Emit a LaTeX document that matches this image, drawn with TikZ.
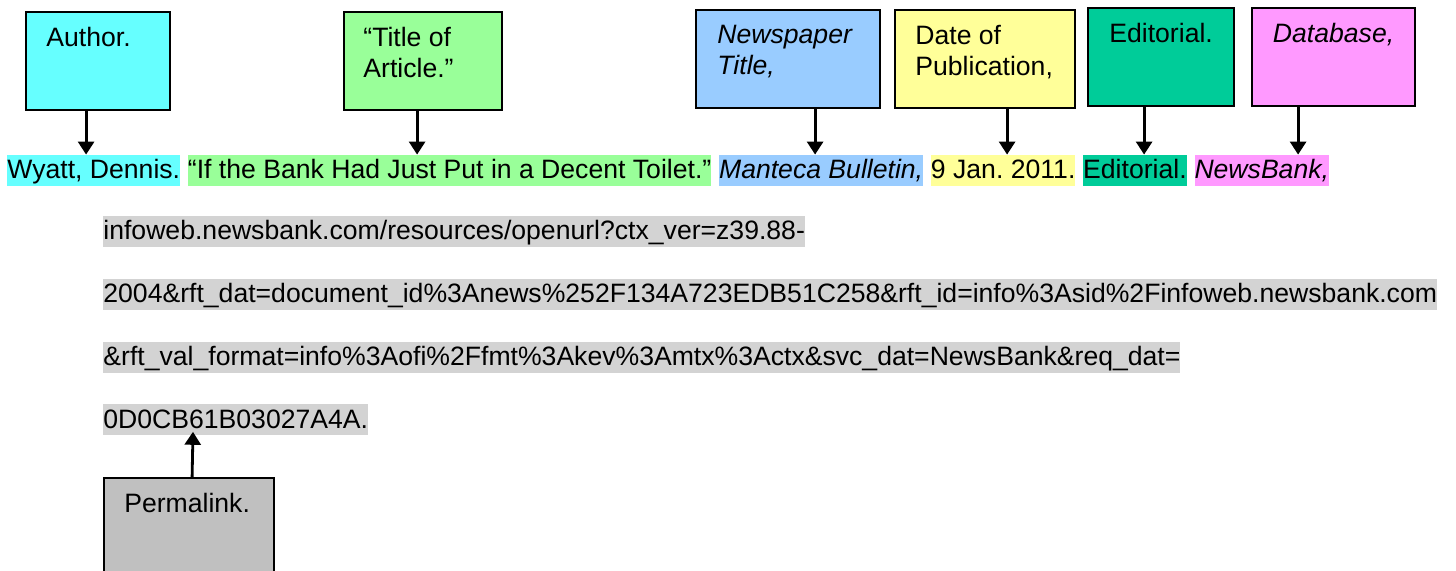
\documentclass[tikz,border=0pt]{standalone}
\usepackage{fontspec}
\setmainfont{Liberation Sans}
\usetikzlibrary{positioning,arrows.meta}
\frenchspacing

\definecolor{authorcol}{HTML}{66FFFF}
\definecolor{titlecol}{HTML}{99FF99}
\definecolor{papercol}{HTML}{99CCFF}
\definecolor{datecol}{HTML}{FFFF99}
\definecolor{editcol}{HTML}{00CC99}
\definecolor{basecol}{HTML}{FF99FF}
\definecolor{urlcol}{HTML}{D3D3D3}
\definecolor{permacol}{HTML}{C0C0C0}

\newcommand{\citefont}{\fontsize{13.3}{15.5}\selectfont}

\tikzset{
  box/.style={draw=black,line width=1.1pt,anchor=north west,inner sep=0pt,minimum height=49pt},
  lbl/.style={inner sep=0pt,align=left,font=\citefont},
  hl/.style={inner sep=0pt,text height=12pt,text depth=3.5pt,font=\citefont},
  arr/.style={-{Triangle[width=8pt,length=6.5pt]},line width=1.4pt},
}

\begin{document}
\begin{tikzpicture}[x=0.5pt,y=-0.5pt]
    \path[fill=white,use as bounding box](0,0)rectangle(1456,571);
    \clip(0,0)rectangle(1456,571);

    % the citation, piece by piece
    \node[hl,fill=authorcol,anchor=base west](wyatt)at(7,179){Wyatt, Dennis.};
    \node[hl,fill=titlecol,right=3.5pt of wyatt](toilet){“If the Bank Had Just Put in a Decent Toilet.”};
    \node[hl,fill=papercol,right=3.5pt of toilet](manteca){\textit{Manteca Bulletin,}};
    \node[hl,fill=datecol,right=3.5pt of manteca](jan){9 Jan. 2011.};
    \node[hl,fill=editcol,right=3.5pt of jan](editorial){Editorial.};
    \node[hl,fill=basecol,right=3.5pt of editorial](newsbank){\textit{NewsBank,}};

    \node[hl,fill=urlcol,anchor=base west](url1)at(103,240){infoweb.newsbank.com/resources/openurl?ctx\_ver=z39.88-};
    \node[hl,fill=urlcol,below right=15.5pt and 0pt of url1.south west](url2){2004\&rft\_dat=document\_id\%3Anews\%252F134A723EDB51C258\&rft\_id=info\%3Asid\%2Finfoweb.newsbank.com};
    \node[hl,fill=urlcol,below right=15.5pt and 0pt of url2.south west](url3){\&rft\_val\_format=info\%3Aofi\%2Ffmt\%3Akev\%3Amtx\%3Actx\&svc\_dat=NewsBank\&req\_dat=};
    \node[hl,fill=urlcol,below right=15.5pt and 0pt of url3.south west](url4){0D0CB61B03027A4A.};

    % the boxes
    \node[box,fill=authorcol,minimum width=72pt](author)at(25,11){};
    \node[box,fill=titlecol,minimum width=79pt](title)at(343,11){};
    \node[box,fill=papercol,minimum width=92pt](paper)at(695,9){};
    \node[box,fill=datecol,minimum width=90pt](date)at(894,9){};
    \node[box,fill=editcol,minimum width=73pt](edit)at(1087,7){};
    \node[box,fill=basecol,minimum width=81.5pt](base)at(1251,7){};
    \node[box,fill=permacol,minimum width=85pt,minimum height=60pt](perma)at(103,477){};

    \node[lbl,anchor=north west](authorlbl)at([shift={(21,16)}]author.north west){Author.};
    \node[lbl,anchor=north west](titlelbl)at([shift={(20,16)}]title.north west){“Title of\\Article.”};
    \node[lbl,anchor=north west](paperlbl)at([shift={(22,16)}]paper.north west){\textit{Newspaper}\\\textit{Title,}};
    \node[lbl,anchor=north west](datelbl)at([shift={(21,16)}]date.north west){Date of\\Publication,};
    \node[lbl,anchor=north](editlbl)at([shift={(0,16)}]edit.north){Editorial.};
    \node[lbl,anchor=north](baselbl)at([shift={(0,16)}]base.north){\textit{Database,}};
    \node[lbl,anchor=north](permalbl)at([shift={(-2,16)}]perma.north){Permalink.};

    % arrows down to the citation
    \coordinate(a1)at([xshift=-6pt]author.south);
    \coordinate(a2)at([xshift=-3pt]title.south);
    \coordinate(a3)at([xshift=13.5pt]paper.south);
    \coordinate(a4)at([xshift=11pt]date.south);
    \coordinate(a5)at([xshift=-8.5pt]edit.south);
    \coordinate(a6)at([xshift=-17.75pt]base.south);
    \draw[arr](a1)--(a1|-wyatt.north);
    \draw[arr](a2)--(a2|-toilet.north);
    \draw[arr](a3)--(a3|-manteca.north);
    \draw[arr](a4)--(a4|-jan.north);
    \draw[arr](a5)--(a5|-editorial.north);
    \draw[arr](a6)--(a6|-newsbank.north);

    \coordinate(ptip)at([shift={(90,-4)}]url4.south west);
    \draw[arr]([xshift=1.5pt]perma.north)--(ptip);
\end{tikzpicture}
\end{document}
